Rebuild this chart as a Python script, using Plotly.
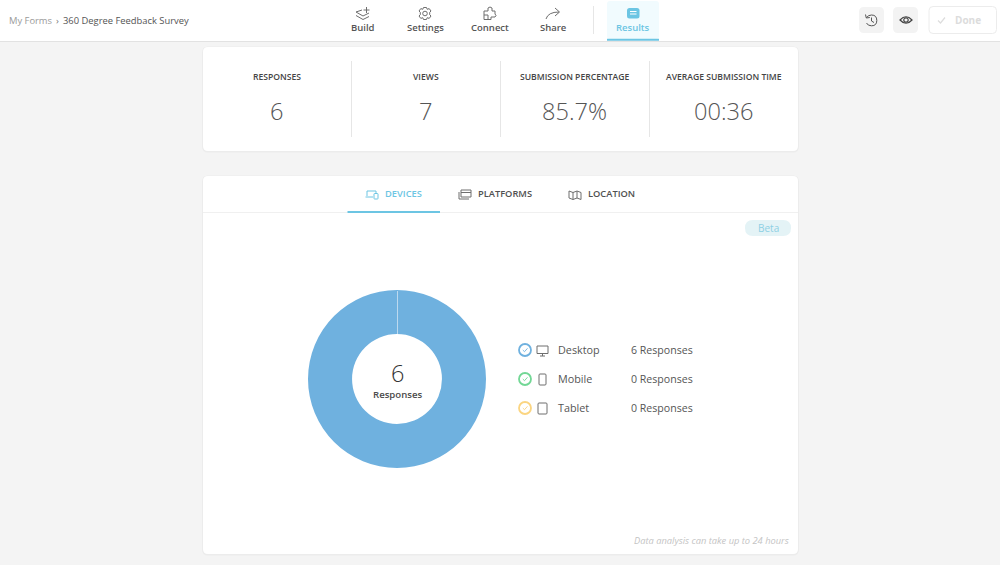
import plotly.graph_objects as go

device_names = ["Desktop", "Mobile", "Tablet"]
device_responses = [6, 0, 0]
device_colors = ["#6fb1df", "#72d795", "#fbd581"]

stat_labels = ["RESPONSES", "VIEWS", "SUBMISSION PERCENTAGE", "AVERAGE SUBMISSION TIME"]
stat_values = ["6", "7", "85.7%", "00:36"]
nav_labels = ["Build", "Settings", "Connect", "Share", "Results"]
tab_labels = ["DEVICES", "PLATFORMS", "LOCATION"]

FONT = "Open Sans"
DARK = "#4a4a4a"
TEAL = "#6cc5e3"
GREY = "#6e6e6e"

shapes = []
annotations = []


def text(x, y, s, size=11, color=DARK, anchor="center", weight=400, style="normal"):
    annotations.append(dict(x=x, y=y, xref="x", yref="y", text=s, showarrow=False,
                            xanchor=anchor, yanchor="middle", borderpad=0, borderwidth=0,
                            font=dict(family=FONT, size=size, color=color, weight=weight, style=style)))


def rrect(x0, y0, x1, y1, r, fill, line=None, width=1, layer="below"):
    p = (f"M{x0+r},{y0} L{x1-r},{y0} Q{x1},{y0} {x1},{y0+r} L{x1},{y1-r} Q{x1},{y1} {x1-r},{y1} "
         f"L{x0+r},{y1} Q{x0},{y1} {x0},{y1-r} L{x0},{y0+r} Q{x0},{y0} {x0+r},{y0} Z")
    shapes.append(dict(type="path", path=p, xref="x", yref="y", fillcolor=fill, layer=layer,
                       line=dict(color=line or "rgba(0,0,0,0)", width=width if line else 0)))


def stroke(p, color=GREY, width=1, fill="rgba(0,0,0,0)"):
    shapes.append(dict(type="path", path=p, xref="x", yref="y", fillcolor=fill, layer="above",
                       line=dict(color=color, width=width)))


def hline(x0, y0, x1, y1, color, width=1, layer="below"):
    shapes.append(dict(type="line", x0=x0, y0=y0, x1=x1, y1=y1, xref="x", yref="y", layer=layer,
                       line=dict(color=color, width=width)))


def circle(cx, cy, r, color=GREY, width=1, fill="rgba(0,0,0,0)"):
    shapes.append(dict(type="circle", x0=cx-r, y0=cy-r, x1=cx+r, y1=cy+r, xref="x", yref="y",
                       layer="above", fillcolor=fill, line=dict(color=color, width=width)))


# header bar
rrect(-2, -2, 1002, 41, 0.1, "#ffffff")
hline(0, 41.5, 1000, 41.5, "#e2e2e2")
text(9, 20, "My Forms", 9.4, "#9a9a9a", "left")
text(57, 20, "›", 9.4, "#777777")
text(63, 20, "360 Degree Feedback Survey", 9.4, "#555555", "left")

# nav items
rrect(607, 1, 659, 39, 3, "#f1fbfe")
hline(607, 39.7, 659, 39.7, TEAL, 2)
hline(593.5, 6, 593.5, 34, "#e6e6e6")
for label, x in zip(nav_labels, [362.5, 425, 489.5, 553, 633]):
    text(x, 27.6, label, 9.5, TEAL if label == "Results" else "#555555", weight=600)

# build icon
stroke("M356,12 L362,10 M356,12 L363,16 L369,13 M356,15.5 L363,19.5 L369,16.5")
hline(366.5, 7, 366.5, 13, GREY, 1, "above")
hline(363.5, 10, 369.5, 10, GREY, 1, "above")
# settings icon
stroke("M423.5,7.5 L426.5,7.5 L427.2,9.3 L429.2,8.6 L431,11 L429.7,12.3 L429.7,14.7 L431,16 L429.2,18.4 "
       "L427.2,17.7 L426.5,19.5 L423.5,19.5 L422.8,17.7 L420.8,18.4 L419,16 L420.3,14.7 L420.3,12.3 "
       "L419,11 L420.8,8.6 L422.8,9.3 Z")
circle(425, 13.5, 2.3)
# connect icon
stroke("M484,11 L488,11 L488,8 Q490,6 492,8 L492,11 L495,11 L495,14 Q497,15.5 495,17 L491,17 L491,19.5 "
       "L484,19.5 Z M484,15 L488,15 L488,19.5")
# share icon
stroke("M546,19 Q548,12 559,12 M555,8 L559.5,12 L555,16")
# results icon
rrect(627, 8, 639.5, 18.5, 2.5, TEAL, layer="above")
hline(630, 11.5, 636.5, 11.5, "#ffffff", 1, "above")
hline(630, 14, 636.5, 14, "#ffffff", 1, "above")

# right-hand buttons
rrect(859, 7, 884, 33, 5, "#f3f3f3")
rrect(893, 7, 918, 33, 5, "#f3f3f3")
rrect(929, 6.5, 996.5, 33.5, 4, "#ffffff", "#ececec")
stroke("M866.5,17.5 Q868.5,15 871.5,15 Q876.8,15 876.8,20.5 Q876.8,25.8 871.5,25.8 Q867.8,25.8 866.5,23", "#555555")
stroke("M865.5,14.5 L866.3,18 L869.8,17.5", "#555555")
stroke("M871.5,17.5 L871.5,21 L874,22.5", "#555555")
stroke("M900,20 Q906,13.5 912,20 Q906,26.5 900,20 Z", "#444444", 1.2)
circle(906, 20, 2.2, "#444444", 1.2)
stroke("M938,20.5 L940.5,23 L945,17.5", "#dddddd", 1.2)
text(967.5, 20, "Done", 10, "#dcdcdc", weight=700)

# top card
rrect(202, 46.5, 799, 152.5, 6, "#ececec")
rrect(203, 47, 798, 151, 5, "#ffffff")
for x in [351.5, 500.5, 649.5]:
    hline(x, 61, x, 137, "#e6e6e6")
for label, value, x in zip(stat_labels, stat_values, [276.5, 425.5, 574.5, 723.5]):
    text(x, 77.3, label, 8.6, "#454545", weight=600)
    text(x, 110.5, value, 23.6, "#555555", weight=300)

# bottom card
rrect(202, 175.5, 799, 555.5, 6, "#ececec")
rrect(203, 176, 798, 554, 5, "#ffffff")
hline(203, 212.5, 798, 212.5, "#f0f0f0")
hline(347.5, 212, 440, 212, TEAL, 2)
for label, x in zip(tab_labels, [385, 478, 588]):
    text(x, 193.3, label, 9.3, TEAL if label == "DEVICES" else "#505050", "left", 600)

# tab icons
stroke("M367,196 L367,191 L376,191 L376,196 M365.5,197 L373,197", TEAL)
rrect(374, 193.5, 378, 199, 0.6, "#ffffff", TEAL, 1, "above")
stroke("M461,190 L471,190 L471,197 L461,197 Z M461,192.5 L471,192.5 M459,192 L459,199 L469,199", GREY)
stroke("M569,191 L573,192.5 L577,191 L581,192.5 L581,199.5 L577,198 L573,199.5 L569,198 Z "
       "M573,192.5 L573,199.5 M577,191 L577,198", GREY)

# beta badge
rrect(745, 220, 791, 236, 8, "#e4f3f6")
text(768, 228, "Beta", 10, "#8ed0e4")

# centre of the ring
text(397, 372.5, str(sum(device_responses)), 23.5, "#333333", weight=300)
text(397, 394.5, "Responses", 9.6, "#4a4a4a", weight=600)
hline(397.5, 291, 397.5, 334, "#bcd9ef", 1, "above")

# legend
for name, count, color, y in zip(device_names, device_responses, device_colors, [350, 379, 408]):
    circle(525, y, 6, color, 1.8)
    stroke(f"M522.8,{y} L524.5,{y+1.7} L527.5,{y-1.7}", color, 0.9)
    text(558, y - 0.6, name, 10.8, "#555555", "left")
    text(631, y - 0.2, f"{count} Responses", 10.6, "#555555", "left")

# device icons
stroke("M537,346 L548,346 L548,353.5 L537,353.5 Z M542.5,353.5 L542.5,356 M540,356 L545,356")
rrect(539, 374, 546, 385, 1, "#ffffff", GREY, 1, "above")
rrect(538, 403, 547, 414, 1, "#ffffff", GREY, 1, "above")

footer_note = "Data analysis can take up to 24 hours"
text(788.5, 540, footer_note, 9.3, "#c4c4c4", "right", style="italic")

fig = go.Figure()
fig.add_trace(go.Scatter(x=[], y=[], showlegend=False, hoverinfo="skip"))
fig.add_trace(go.Pie(labels=device_names, values=device_responses, hole=0.505, sort=False,
                     direction="clockwise", rotation=0, textinfo="none", showlegend=False,
                     marker=dict(colors=device_colors, line=dict(width=0)),
                     domain=dict(x=[0.308, 0.486], y=[1 - 468 / 565, 1 - 290 / 565])))
fig.update_layout(
    width=1000, height=565, margin=dict(l=0, r=0, t=0, b=0), autosize=False,
    paper_bgcolor="#f4f4f4", plot_bgcolor="rgba(0,0,0,0)", showlegend=False,
    xaxis=dict(range=[0, 1000], visible=False, domain=[0, 1], fixedrange=True),
    yaxis=dict(range=[565, 0], visible=False, domain=[0, 1], fixedrange=True),
    shapes=shapes, annotations=annotations,
)
fig.write_html("out.html", config=dict(displayModeBar=False),
               post_script="document.body.style.margin='0';document.body.style.overflow='hidden';")
